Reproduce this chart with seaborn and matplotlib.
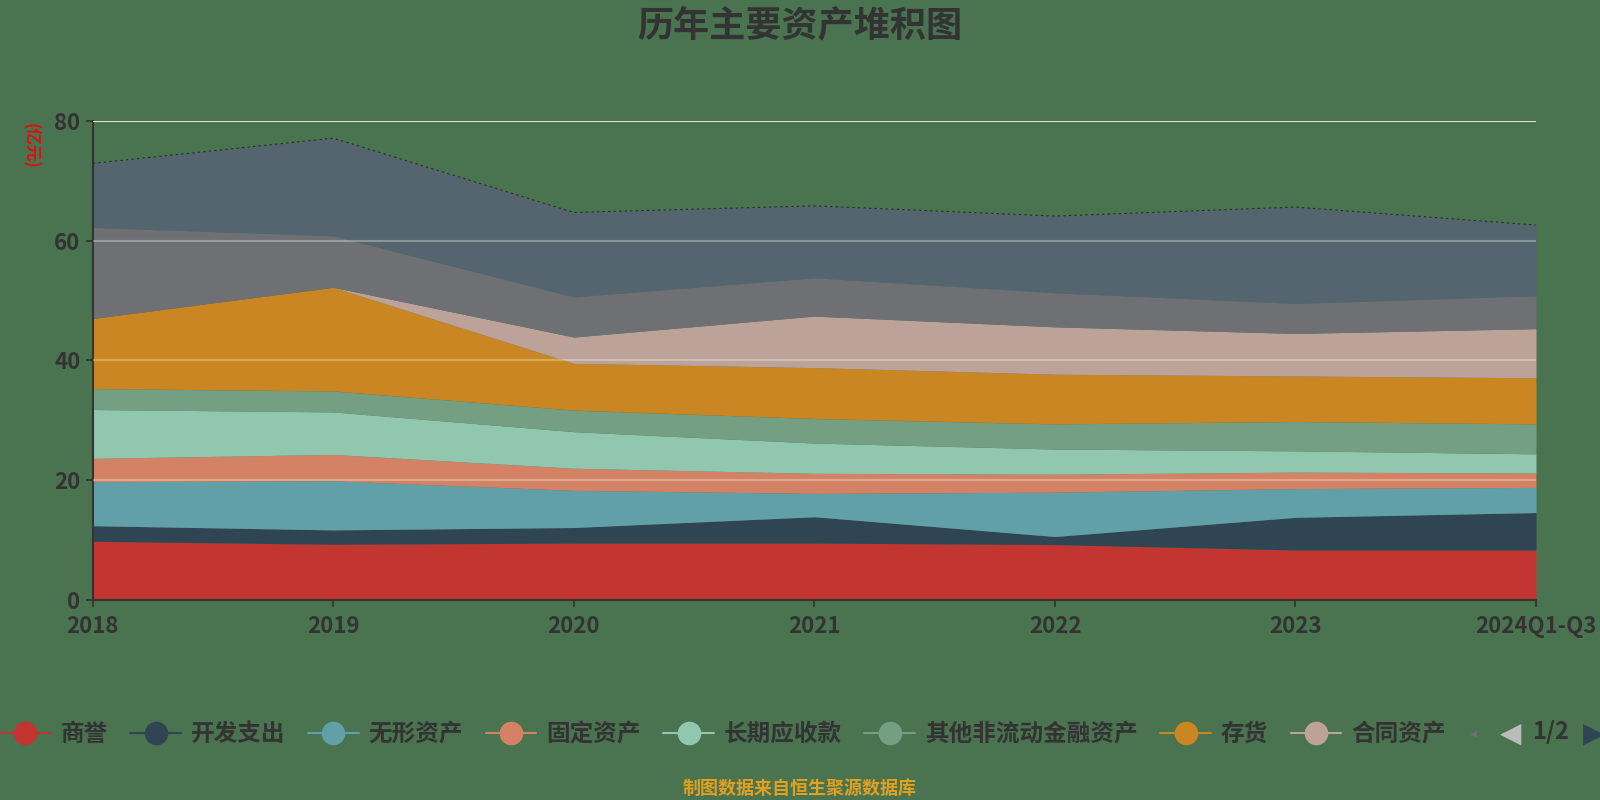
import numpy as np
import pandas as pd
import seaborn as sns
import matplotlib.pyplot as plt
from matplotlib.lines import Line2D

# data (亿元), per-layer values
years = ['2018', '2019', '2020', '2021', '2022', '2023', '2024Q1-Q3']
goodwill = [9.8, 9.3, 9.5, 9.5, 9.25, 8.35, 8.35]
dev_cost = [2.6, 2.4, 2.6, 4.4, 1.35, 5.45, 6.25]
intangible = [7.35, 8.2, 6.2, 3.9, 7.4, 4.8, 4.2]
fixed_assets = [3.9, 4.4, 3.7, 3.35, 3.0, 2.75, 2.4]
lt_receivable = [8.15, 7.1, 6.1, 5.05, 4.2, 3.55, 3.2]
other_fin = [3.5, 3.5, 3.6, 4.1, 4.2, 4.9, 5.0]
inventory = [11.7, 17.3, 7.8, 8.5, 8.3, 7.6, 7.7]
contract_assets = [0.0, 0.0, 4.4, 8.6, 7.9, 7.1, 8.2]
receivables = [15.2, 8.6, 6.7, 6.4, 5.7, 5.0, 5.5]
cash = [10.7, 16.3, 14.1, 12.0, 12.8, 16.1, 11.8]

names = ['商誉', '开发支出', '无形资产', '固定资产', '长期应收款', '其他非流动金融资产',
         '存货', '合同资产', '应收账款', '货币资金']
colors = ['#c23531', '#2f4554', '#61a0a8', '#d48265', '#91c7ae', '#749f83',
          '#ca8622', '#bda29a', '#6e7074', '#546570']
yticks = [0, 20, 40, 60, 80]

bg = '#4a7350'
sns.set_theme(style='ticks')
plt.rcParams['font.family'] = ['Noto Sans CJK SC', 'DejaVu Sans']

df = pd.DataFrame({
    'year': years, '商誉': goodwill, '开发支出': dev_cost, '无形资产': intangible,
    '固定资产': fixed_assets, '长期应收款': lt_receivable, '其他非流动金融资产': other_fin,
    '存货': inventory, '合同资产': contract_assets, '应收账款': receivables, '货币资金': cash,
})
x = np.arange(len(years))

fig = plt.figure(figsize=(16, 8), dpi=100, facecolor=bg)
ax = fig.add_axes([0.058, 0.25, 0.902, 0.599])
ax.set_facecolor(bg)

ax.stackplot(x, *[df[n] for n in names], colors=colors, linewidth=0, zorder=2)
total = df[names].sum(axis=1)
sns.lineplot(x=x, y=total, ax=ax, color='#2a2a2a', linestyle=(0, (2, 3)), linewidth=0.8, zorder=4)

# grid lines drawn over the areas
for v in yticks[1:]:
    ax.axhline(v, color='#f0f0dc', alpha=0.35, linewidth=1.5, zorder=3)
ax.axhline(yticks[-1], color='#e2e6cf', linewidth=1.5, zorder=3)

ax.set_xlim(0, len(years) - 1)
ax.set_ylim(0, 80)
ax.set_xticks(x)
ax.set_xticklabels(years)
ax.set_yticks(yticks)
ax.tick_params(axis='both', colors='#333333', labelsize=16, length=5, width=1.2)
ax.tick_params(axis='x', pad=6)
ax.tick_params(axis='y', pad=4)
for lab in ax.get_xticklabels() + ax.get_yticklabels():
    lab.set_color('#333333')
    lab.set_fontweight('bold')
for side in ['top', 'right']:
    ax.spines[side].set_visible(False)
for side in ['left', 'bottom']:
    ax.spines[side].set_color('#333333')
    ax.spines[side].set_linewidth(1.5)
ax.set_xlabel('')
ax.set_ylabel('')

fig.text(0.019, 0.8175, '(亿元)', color='#e01010', fontsize=12, rotation=-90,
         ha='center', va='center', fontweight='bold')
fig.text(0.5, 0.968, '历年主要资产堆积图', ha='center', va='center',
         fontsize=26, fontweight='bold', color='#333333')

# legend (page 1 of 2)
handles = [Line2D([0], [0], color=c, marker='o', markersize=17, linewidth=1.5,
                  markeredgewidth=0) for c in colors[:8]]
leg = fig.legend(handles, names[:8], loc='center left', bbox_to_anchor=(0.0, 0.0825),
                 ncol=8, frameon=False, fontsize=17, handlelength=2.15,
                 handletextpad=0.42, columnspacing=0.95, borderpad=0, borderaxespad=0)
for t in leg.get_texts():
    t.set_color('#333333')
    t.set_fontweight('bold')

# paging controls of the legend
fig.text(0.921, 0.0835, '◂', color='#6e7074', fontsize=10, ha='center', va='center',
         family=['DejaVu Sans'])
fig.text(0.944, 0.0835, '◀', color='#bbbbbb', fontsize=20, ha='center', va='center',
         family=['DejaVu Sans'])
fig.text(0.969, 0.0845, '1/2', color='#333333', fontsize=17, ha='center', va='center',
         fontweight='bold')
fig.text(0.996, 0.0835, '▶', color='#2f4554', fontsize=20, ha='center', va='center',
         family=['DejaVu Sans'])

fig.text(0.5, 0.014, '制图数据来自恒生聚源数据库', ha='center', va='center',
         fontsize=13, color='#e0a020', fontweight='bold')

fig.savefig('out.png', dpi=100, facecolor=bg)
